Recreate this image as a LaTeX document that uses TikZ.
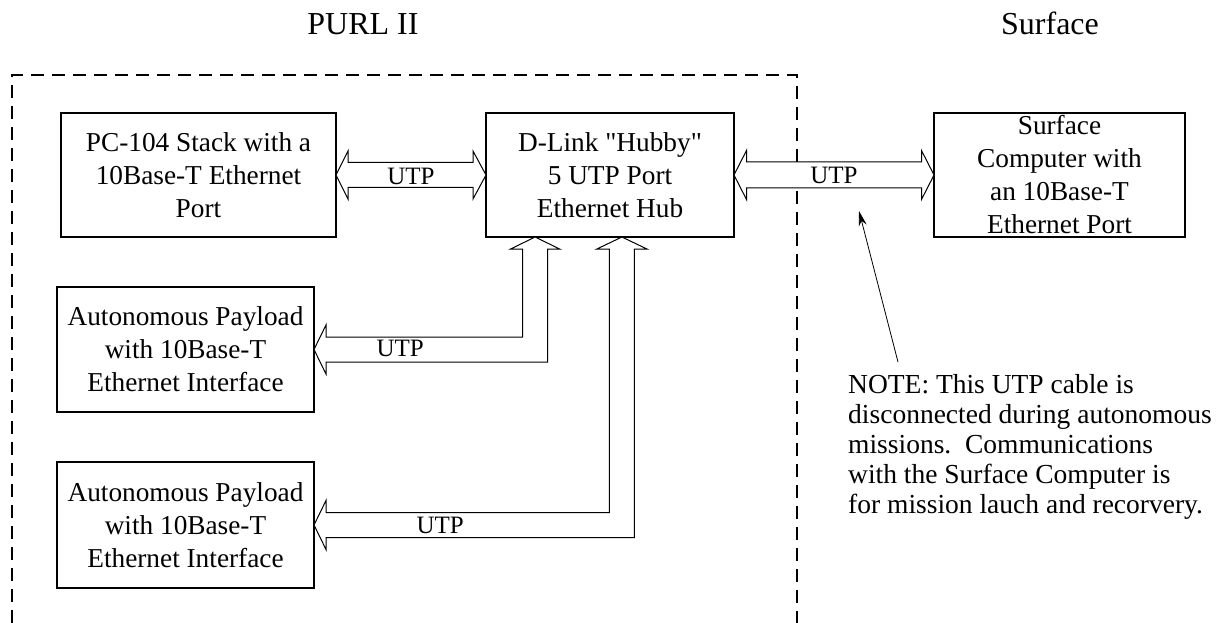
\documentclass[tikz,border=0pt]{standalone}
\usepackage{fontspec}
\setmainfont{Liberation Serif}
% same face without TeX ligatures, so that " stays a straight quote
\newfontfamily\qfont{Liberation Serif}
\usetikzlibrary{calc,arrows.meta}
\newcommand\bxfont{\fontsize{27.3}{33}\selectfont}
\newcommand\utpfont{\fontsize{25}{30}\selectfont}
\newcommand\notefont{\fontsize{27.5}{30}\selectfont}
\newcommand\ttlfont{\fontsize{32}{38}\selectfont}
\begin{document}
\begin{tikzpicture}[x=1pt,y=-1pt,
  box/.style={draw,line width=2pt,inner sep=0pt,outer sep=0pt,align=center,font=\bxfont},
  blockarr/.style={draw,line width=1pt,fill=white,line join=miter},
  utp/.style={inner sep=0pt,font=\utpfont},
  frame/.style={line width=2pt,dash pattern=on 13pt off 8pt},
  pointer/.style={line width=0.8pt,-{Stealth[length=15pt,width=8pt]}}]
\useasboundingbox (0,0) rectangle (1219,623);

% section titles
\node[font=\ttlfont,anchor=base] (purl) at (363,35) {PURL II};
\node[font=\ttlfont,anchor=base] (surftitle) at (1050,35) {Surface};

% dashed enclosure of the vehicle side
\draw[frame] (12,623) -- (12,75) -- (797,75) -- (797,623);

% equipment blocks
\node[box,minimum width=275pt,minimum height=124pt] (pc) at (198.5,175)
  {PC-104 Stack with a\\10Base-T Ethernet\\Port};
\node[box,minimum width=248pt,minimum height=124pt] (hub) at (610,175)
  {{\qfont D-Link "Hubby"}\\5 UTP Port\\Ethernet Hub};
\node[box,minimum width=251pt,minimum height=124pt] (surf) at (1059.5,175)
  {Surface\\Computer with\\an 10Base-T\\Ethernet Port};
\node[box,minimum width=257pt,minimum height=125pt] (p1) at (185.5,349.5)
  {Autonomous Payload\\with 10Base-T\\Ethernet Interface};
\node[box,minimum width=257pt,minimum height=126pt] (p2) at (185.5,525)
  {Autonomous Payload\\with 10Base-T\\Ethernet Interface};

% PC-104 <-> hub
\draw[blockarr] (pc.east) -- ++(12,-24) -- ++(0,11.5)
  -- ($(hub.west)+(-13,-12.5)$) -- ++(0,-11.5) -- (hub.west)
  -- ++(-13,24) -- ++(0,-11.5) -- ($(pc.east)+(12,12.5)$) -- ++(0,11.5) -- cycle;
\node[utp] (l1) at ($(pc.east)!0.5!(hub.west)+(0,1.5)$) {UTP};

% hub <-> surface computer
\draw[blockarr] (hub.east) -- ++(12.5,-24.5) -- ++(0,11.5)
  -- ($(surf.west)+(-12.5,-13)$) -- ++(0,-11.5) -- (surf.west)
  -- ++(-12.5,24.5) -- ++(0,-11.5) -- ($(hub.east)+(12.5,13)$) -- ++(0,11.5) -- cycle;
\node[utp] (l2) at ($(hub.east)!0.5!(surf.west)+(0,0.5)$) {UTP};

% hub <-> first payload (elbow)
\coordinate (t3) at ($(hub.south west)!0.198!(hub.south east)$);
\coordinate (c3) at (t3 |- p1.east);
\draw[blockarr] (t3) -- ($(t3)+(24.5,12)$) -- ($(t3)+(12.5,12)$)
  -- ($(c3)+(12.5,12.5)$) -- ($(p1.east)+(12,12.5)$) -- ($(p1.east)+(12,24.5)$)
  -- (p1.east) -- ($(p1.east)+(12,-24.5)$) -- ($(p1.east)+(12,-12.5)$)
  -- ($(c3)+(-12.5,-12.5)$) -- ($(t3)+(-12.5,12)$) -- ($(t3)+(-24.5,12)$) -- cycle;
\node[utp] (l3) at ($(p1.east)!0.39!(c3)+(0,-1)$) {UTP};

% hub <-> second payload (elbow)
\coordinate (t4) at ($(hub.south west)!0.548!(hub.south east)$);
\coordinate (c4) at (t4 |- p2.east);
\draw[blockarr] (t4) -- ($(t4)+(25,12)$) -- ($(t4)+(12.5,12)$)
  -- ($(c4)+(12.5,12.5)$) -- ($(p2.east)+(12,12.5)$) -- ($(p2.east)+(12,24.5)$)
  -- (p2.east) -- ($(p2.east)+(12,-24.5)$) -- ($(p2.east)+(12,-12.5)$)
  -- ($(c4)+(-12.5,-12.5)$) -- ($(t4)+(-12.5,12)$) -- ($(t4)+(-25,12)$) -- cycle;
\node[utp] (l4) at ($(p2.east)!0.41!(c4)$) {UTP};

% note about the surface cable
\node[font=\notefont,align=left,inner sep=0pt,anchor=north west] (note) at (848,374)
  {NOTE: This UTP cable is\\disconnected during autonomous\\missions.\ \ Communications\\with the Surface Computer is\\for mission lauch and recorvery.};
\coordinate (cable) at ($(hub.east)!0.625!(surf.west)+(0,36)$);
\coordinate (notept) at ($(note.north west)+(50,-12)$);
\draw[pointer] (notept) -- (cable);
\end{tikzpicture}
\end{document}
